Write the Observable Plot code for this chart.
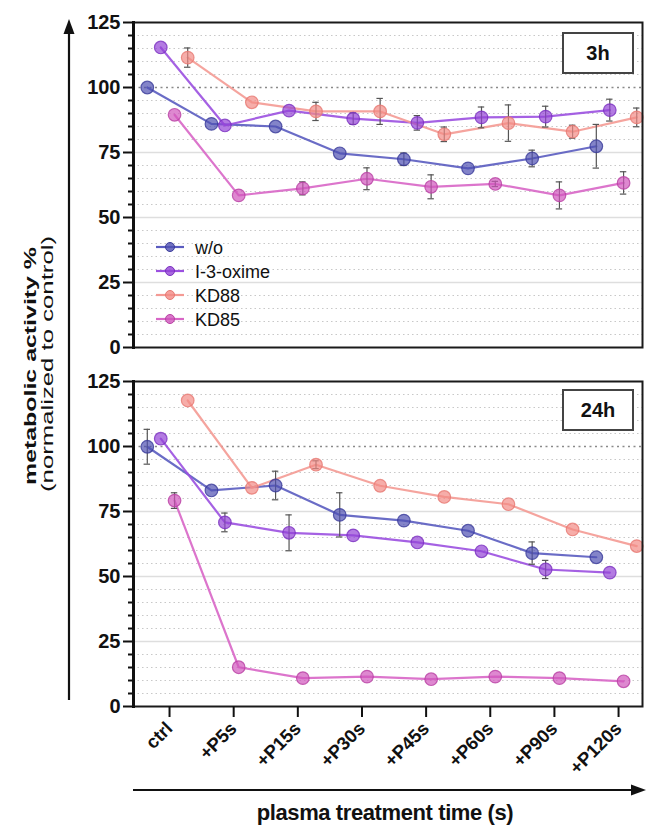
<!DOCTYPE html>
<html>
<head>
<meta charset="utf-8">
<script src="https://cdn.jsdelivr.net/npm/d3@7"></script>
<script src="https://cdn.jsdelivr.net/npm/@observablehq/plot@0.6"></script>
<style>
  html, body { margin: 0; padding: 0; background: #fff; }
  #wrap { position: relative; width: 646px; height: 825px; overflow: hidden; font-family: "Liberation Sans", Arial, sans-serif; }
  #top, #bottom { position: absolute; left: 0; }
  #top { top: 0; }
  #bottom { top: 360px; }
  #overlay { position: absolute; left: 0; top: 0; pointer-events: none; }
</style>
</head>
<body>
<div id="wrap">
  <div id="top"></div>
  <div id="bottom"></div>
  <svg id="overlay" width="646" height="825"></svg>
</div>
<script>
// ---------- data ----------
const categories = ["ctrl", "+P5s", "+P15s", "+P30s", "+P45s", "+P60s", "+P90s", "+P120s"];
const seriesNames = ["w/o", "I-3-oxime", "KD88", "KD85"];
const yTicks = [0, 25, 50, 75, 100, 125];

// 3 h
const wo3h     = [100, 86, 85, 74.7, 72.4, 68.9, 72.7, 77.4];
const oxime3h  = [115.4, 85.4, 91.1, 88, 86.4, 88.5, 88.8, 91.3];
const kd88_3h  = [111.5, 94.3, 90.8, 90.8, 82, 86.3, 83, 88.5];
const kd85_3h  = [89.5, 58.5, 61.2, 64.9, 61.8, 62.9, 58.5, 63.3];
const wo3hErr    = [0, 0, 0, 0, 2.4, 0, 3.2, 8.4];
const oxime3hErr = [0, 0, 0, 2.2, 2.8, 4, 4, 4.2];
const kd88_3hErr = [3.7, 0, 3.5, 5, 2.8, 7, 2.5, 3.6];
const kd85_3hErr = [0, 0, 2.5, 4.2, 4.6, 1, 5.2, 4.3];

// 24 h
const wo24h     = [99.9, 83.1, 85, 73.7, 71.5, 67.6, 59, 57.4];
const oxime24h  = [103, 70.8, 66.8, 65.8, 63.1, 59.7, 52.7, 51.5];
const kd88_24h  = [117.7, 84.1, 93, 84.9, 80.6, 77.8, 68.1, 61.7];
const kd85_24h  = [79.2, 15.1, 10.9, 11.5, 10.5, 11.5, 10.9, 9.7];
const wo24hErr    = [6.7, 0, 5.5, 8.5, 0, 0, 4.3, 0];
const oxime24hErr = [0, 3.6, 6.9, 0, 0, 0, 3.5, 0];
const kd88_24hErr = [0, 0, 1.5, 0, 0, 0, 0, 0];
const kd85_24hErr = [3, 0, 0, 0, 0, 0, 0, 0];

// ---------- styling / layout ----------
const lineColor = {"w/o": "#5a5cc0", "I-3-oxime": "#9b50e0", "KD88": "#f49a94", "KD85": "#d866c6"};
const dotFill   = {"w/o": "#4f50b2", "I-3-oxime": "#9343d6", "KD88": "#f28a84", "KD85": "#d055bc"};
const dotStroke = {"w/o": "#3a3b9a", "I-3-oxime": "#7a2fc0", "KD88": "#e77872", "KD85": "#b940a4"};
const dodge = {"w/o": -0.30, "I-3-oxime": -0.09, "KD85": 0.125, "KD88": 0.33};
const xDomain = [-0.515, 7.42];

function buildRows(vals, errs) {
  const out = [];
  seriesNames.forEach((s, k) => {
    vals[k].forEach((v, i) => out.push({series: s, i, x: i + dodge[s], v, e: errs[k][i]}));
  });
  return out;
}

const rows3h = buildRows([wo3h, oxime3h, kd88_3h, kd85_3h], [wo3hErr, oxime3hErr, kd88_3hErr, kd85_3hErr]);
const rows24h = buildRows([wo24h, oxime24h, kd88_24h, kd85_24h], [wo24hErr, oxime24hErr, kd88_24hErr, kd85_24hErr]);

const minor = d3.range(5, 125, 5).filter(v => v % 25 !== 0);
const minorTicks = d3.range(0, 126, 5).filter(v => v % 25 !== 0);

function panel(rows, opts) {
  const marks = [
    Plot.ruleY(minor, {stroke: "#c8c8c8", strokeWidth: 1.2, strokeDasharray: "1.5,3"}),
    Plot.ruleY([25, 50, 75], {stroke: "#dedede", strokeWidth: 1.6}),
    Plot.ruleY([100], {stroke: "#8a8a8a", strokeWidth: 1.6, strokeDasharray: "2,3.5"}),
  ];
  for (const s of seriesNames) {
    marks.push(Plot.line(rows.filter(d => d.series === s), {x: "x", y: "v", stroke: lineColor[s], strokeWidth: 2.2, strokeOpacity: 0.9}));
  }
  const eb = rows.filter(d => d.e > 0);
  marks.push(Plot.ruleX(eb, {x: "x", y1: d => d.v - d.e, y2: d => d.v + d.e, stroke: "#555", strokeWidth: 1.2}));
  marks.push(Plot.ruleY(eb, {y: d => d.v + d.e, x1: d => d.x - 0.05, x2: d => d.x + 0.05, stroke: "#555", strokeWidth: 1.2}));
  marks.push(Plot.ruleY(eb, {y: d => d.v - d.e, x1: d => d.x - 0.05, x2: d => d.x + 0.05, stroke: "#555", strokeWidth: 1.2}));
  for (const s of seriesNames) {
    marks.push(Plot.dot(rows.filter(d => d.series === s), {x: "x", y: "v", r: 6.3, fill: dotFill[s], fillOpacity: 0.7, stroke: dotStroke[s], strokeWidth: 1.2, strokeOpacity: 0.8}));
  }
  marks.push(Plot.frame({stroke: "#1a1a1a", strokeWidth: 2}));
  marks.push(Plot.frame({anchor: "left", stroke: "#111", strokeWidth: 3}));
  marks.push(Plot.axisY({ticks: minorTicks, tickSize: 5, tickFormat: () => "", stroke: "#111", strokeWidth: 2, label: null}));
  marks.push(Plot.axisY({ticks: yTicks, tickSize: 10, tickPadding: 3, fontSize: 20, stroke: "#111", strokeWidth: 2, fill: "#111", label: null}));
  if (opts.xAxis) {
    marks.push(Plot.axisX({ticks: d3.range(categories.length), tickFormat: i => categories[i], tickRotate: -45,
      tickSize: 11, tickPadding: 8, fontSize: 18.5, dx: 3, stroke: "#111", strokeWidth: 2, fill: "#111", label: null}));
  }
  return Plot.plot({
    width: 646,
    height: opts.height,
    marginLeft: 133,
    marginRight: 4,
    marginTop: opts.marginTop,
    marginBottom: opts.marginBottom,
    x: {type: "linear", domain: xDomain, axis: null},
    y: {domain: [0, 125], axis: null},
    style: {fontFamily: "'Liberation Sans', Arial, sans-serif", fontWeight: "bold", background: "transparent", overflow: "visible"},
    marks
  });
}

document.getElementById("top").append(panel(rows3h, {height: 360, marginTop: 22, marginBottom: 13, xAxis: false}));
document.getElementById("bottom").append(panel(rows24h, {height: 465, marginTop: 21, marginBottom: 119, xAxis: true}));

// ---------- overlay: axis arrows, titles, legend, panel labels ----------
const ov = d3.select("#overlay");
const ff = "'Liberation Sans', Arial, sans-serif";
// y arrow
ov.append("line").attr("x1", 69).attr("x2", 69).attr("y1", 700).attr("y2", 32).attr("stroke", "#111").attr("stroke-width", 2.2);
ov.append("path").attr("d", "M69,19 L63.5,34 L74.5,34 Z").attr("fill", "#111");
// x arrow
ov.append("line").attr("x1", 133).attr("x2", 632).attr("y1", 790).attr("y2", 790).attr("stroke", "#111").attr("stroke-width", 2.2);
ov.append("path").attr("d", "M646,790 L631,784.5 L631,795.5 Z").attr("fill", "#111");
// y title
ov.append("text").attr("transform", "translate(36,366) rotate(-90)").attr("text-anchor", "middle")
  .attr("font-family", ff).attr("font-weight", "bold").attr("font-size", 17).attr("fill", "#111")
  .attr("textLength", 238).attr("lengthAdjust", "spacingAndGlyphs").text("metabolic activity %");
ov.append("text").attr("transform", "translate(53,364) rotate(-90)").attr("text-anchor", "middle")
  .attr("font-family", ff).attr("font-size", 17).attr("fill", "#111")
  .attr("textLength", 256).attr("lengthAdjust", "spacingAndGlyphs").text("(normalized to control)");
// x title
ov.append("text").attr("x", 385).attr("y", 820).attr("text-anchor", "middle")
  .attr("font-family", ff).attr("font-weight", "bold").attr("font-size", 22).attr("letter-spacing", -0.4).attr("fill", "#111")
  .text("plasma treatment time (s)");
// legend
const legY = [247, 271, 295, 319];
seriesNames.forEach((s, k) => {
  const g = ov.append("g");
  g.append("line").attr("x1", 156).attr("x2", 184).attr("y1", legY[k]).attr("y2", legY[k]).attr("stroke", lineColor[s]).attr("stroke-width", 2.2);
  g.append("circle").attr("cx", 170).attr("cy", legY[k]).attr("r", 4.5).attr("fill", dotFill[s]).attr("fill-opacity", 0.8).attr("stroke", dotStroke[s]);
  g.append("text").attr("x", 195).attr("y", legY[k] + 6.5).attr("font-family", ff).attr("font-size", 18).attr("fill", "#111").text(s);
});
// panel labels
[[33, "3h"], [390, "24h"]].forEach(([y0, t]) => {
  ov.append("rect").attr("x", 563).attr("y", y0).attr("width", 70).attr("height", 40).attr("fill", "#fff").attr("stroke", "#444").attr("stroke-width", 2);
  ov.append("text").attr("x", 598).attr("y", y0 + 27).attr("text-anchor", "middle").attr("font-family", ff)
    .attr("font-weight", "bold").attr("font-size", 20).attr("fill", "#111").text(t);
});
</script>
</body>
</html>
